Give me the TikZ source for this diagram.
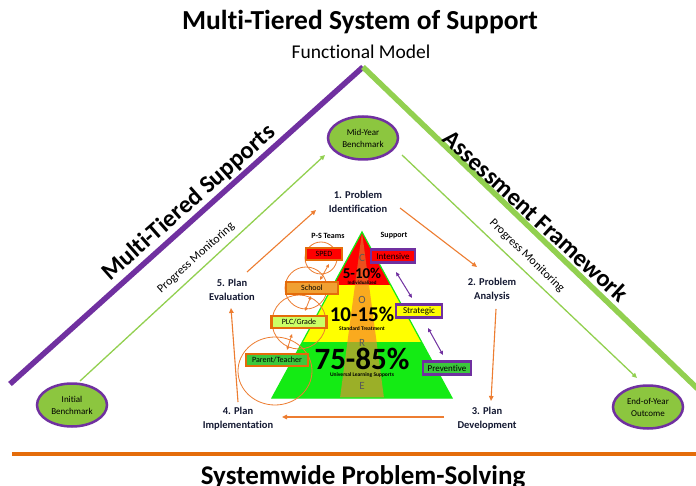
\documentclass[tikz,border=0pt]{standalone}
\usepackage{fontspec}
\setmainfont[Ligatures=NoCommon]{Carlito}
\usetikzlibrary{arrows.meta,shapes.geometric}
\definecolor{mpurple}{RGB}{112,48,160}
\definecolor{mgreen}{RGB}{146,208,80}
\definecolor{egreen}{RGB}{140,198,63}
\definecolor{morange}{RGB}{237,125,49}
\definecolor{borange}{RGB}{228,108,10}
\definecolor{pred}{RGB}{255,0,0}
\definecolor{pyellow}{RGB}{255,255,0}
\definecolor{pgreen}{RGB}{20,235,20}
\definecolor{sred}{RGB}{235,80,30}
\definecolor{sorange}{RGB}{250,170,30}
\definecolor{solive}{RGB}{155,175,40}
\definecolor{navy}{RGB}{20,25,50}
\definecolor{boxlime}{RGB}{204,255,102}
\definecolor{boxgreen}{RGB}{60,200,60}
\definecolor{boxorangefill}{RGB}{240,160,50}
\tikzset{
  bench/.style={ellipse, draw=mpurple, line width=2.5pt, fill=egreen, minimum width=70pt, minimum height=43pt, inner sep=0pt, align=center, font=\fontsize{9}{12}\selectfont},
  cyclelbl/.style={align=center, text=navy, font=\bfseries\fontsize{10.5}{14}\selectfont},
  oarrow/.style={draw=morange, line width=1.1pt, -{Triangle[length=5pt,width=4.5pt]}},
  garrow/.style={draw=mgreen, line width=1.3pt, -{Triangle[length=5pt,width=4.5pt]}},
  parrow/.style={draw=mpurple, line width=1pt, {Triangle[length=4pt,width=3.5pt]}-{Triangle[length=4pt,width=3.5pt]}},
  carrow/.style={draw=morange, line width=0.8pt, {Triangle[length=3.5pt,width=3pt]}-{Triangle[length=3.5pt,width=3pt]}},
  lbox/.style={draw=borange, line width=2.5pt, inner sep=1.5pt, minimum height=12pt, font=\fontsize{8}{9}\selectfont},
  rbox/.style={draw=mpurple, line width=2.5pt, inner sep=1.5pt, minimum height=13pt, font=\fontsize{9}{10}\selectfont},
  ring/.style={draw=morange, line width=0.8pt},
  core/.style={text=black!65, font=\fontsize{11}{12}\selectfont},
  tiny/.style={font=\bfseries\fontsize{5.5}{6}\selectfont},
  pmon/.style={font=\fontsize{12}{14}\selectfont},
}
\begin{document}
\begin{tikzpicture}[x=1pt,y=-1pt]
\useasboundingbox[fill=white] (0,0) rectangle (696,486);
% titles
\node[font=\bfseries\fontsize{27.5}{31}\selectfont] (title) at (360,22) {Multi-Tiered System of Support};
\node[font=\fontsize{19.5}{22}\selectfont] (subtitle) at (361,52) {Functional Model};
% big triangle
\coordinate (apex) at (363,67);
\coordinate (pend) at (10,384);
\coordinate (gend) at (700,391);
\draw[mpurple, line width=5.5pt] (apex) -- (pend);
\draw[mgreen, line width=5.5pt] (apex) -- (gend);
\node[rotate=41.5, font=\bfseries\fontsize{24.5}{28}\selectfont] (mts) at (189,203) {Multi-Tiered Supports};
\node[rotate=-42.5, font=\bfseries\fontsize{24.5}{28}\selectfont] (af) at (536,216) {Assessment Framework};
% bottom line and title
\coordinate (ol) at (12,454);
\coordinate (or) at (696,454);
\draw[borange, line width=4pt] (ol) -- (or);
\node[anchor=base, font=\bfseries\fontsize{27}{30}\selectfont] (spstitle) at (363,484) {Systemwide Problem-Solving};
% benchmarks
\node[bench] (mid) at (363,138) {Mid-Year\\Benchmark};
\node[bench] (init) at (72,405) {Initial\\Benchmark};
\node[bench] (eoy) at (648,407) {End-of-Year\\Outcome};
\coordinate (gl1) at (80,381);
\coordinate (gl2) at (325,155);
\coordinate (gr1) at (402,155);
\coordinate (gr2) at (637,378);
\draw[garrow] (gl1) -- (gl2);
\draw[garrow] (gr1) -- (gr2);
\node[rotate=42, pmon] (pml) at (196,258) {Progress Monitoring};
\node[rotate=-44, pmon] (pmr) at (527,256) {Progress Monitoring};
% cycle labels
\node[cyclelbl] (c1) at (358,202) {1. Problem\\Identification};
\node[cyclelbl] (c2) at (492,290) {2. Problem\\Analysis};
\node[cyclelbl] (c3) at (487,419) {3. Plan\\Development};
\node[cyclelbl] (c4) at (238,419) {4. Plan\\Implementation};
\node[cyclelbl] (c5) at (232,290) {5. Plan\\Evaluation};
\coordinate (a51) at (247,272); \coordinate (a52) at (316,210);
\coordinate (a11) at (400,208); \coordinate (a12) at (477,267);
\coordinate (a21) at (496,309); \coordinate (a22) at (491,401);
\coordinate (a31) at (444,417); \coordinate (a32) at (282,417);
\coordinate (a41) at (238,402); \coordinate (a42) at (231,308);
\draw[oarrow] (a51) -- (a52);
\draw[oarrow] (a11) -- (a12);
\draw[oarrow] (a21) -- (a22);
\draw[oarrow] (a31) -- (a32);
\draw[oarrow] (a41) -- (a42);
% pyramid
\coordinate (pa) at (362,232);
\coordinate (pl) at (272,398);
\coordinate (pr) at (452,398);
\coordinate (sl) at (340,398);
\coordinate (sr) at (384,398);
\begin{scope}
  \clip (pa) -- (pl) -- (pr) -- cycle;
  \fill[pred] (250,225) rectangle (470,285);
  \fill[pyellow] (250,285) rectangle (470,342);
  \fill[pgreen] (250,342) rectangle (470,400);
  \clip (pa) -- (sl) -- (sr) -- cycle;
  \fill[sred] (250,225) rectangle (470,285);
  \fill[sorange] (250,285) rectangle (470,342);
  \fill[solive] (250,342) rectangle (470,400);
\end{scope}
\draw[pgreen, line width=1.2pt, line join=miter] (pa) -- (pl) -- (pr) -- cycle;
\node[core] (cC) at (362,258) {C};
\node[core] (cO) at (362,300) {O};
\node[core] (cR) at (362,343) {R};
\node[core] (cE) at (362,386) {E};
\node[font=\bfseries\fontsize{15}{16}\selectfont] (p1) at (362,273) {5-10\%};
\node[font=\bfseries\fontsize{5}{6}\selectfont] (p1s) at (362,283) {Individualized};
\node[font=\bfseries\fontsize{21}{22}\selectfont] (p2) at (362,314) {10-15\%};
\node[tiny] (p2s) at (362,329) {Standard Treatment};
\node[font=\bfseries\fontsize{31}{32}\selectfont] (p3) at (362,359) {75-85\%};
\node[tiny] (p3s) at (362,375) {Universal Learning Supports};
\node[font=\bfseries\fontsize{8}{9}\selectfont] (pst) at (328,236) {P-S Teams};
\node[font=\bfseries\fontsize{8}{9}\selectfont] (sup) at (394,236) {Support};
% rings
\draw[ring] (321,258) circle (16);
\draw[ring] (306,288) circle (21);
\draw[ring] (299,322) circle (27);
\draw[ring] (275,371) ellipse (37 and 34);
\coordinate (r1a) at (329,264); \coordinate (r1b) at (320,280);
\coordinate (r2a) at (311,296); \coordinate (r2b) at (305,311);
\coordinate (r3a) at (292,334); \coordinate (r3b) at (287,350);
\draw[carrow] (r1a) -- (r1b);
\draw[carrow] (r2a) -- (r2b);
\draw[carrow] (r3a) -- (r3b);
% left boxes
\node[lbox, fill=pred, minimum width=36pt] (sped) at (324,254) {SPED};
\node[lbox, fill=boxorangefill, minimum width=52pt] (school) at (312,288) {School};
\node[lbox, fill=boxlime, minimum width=55pt] (plc) at (299,322) {PLC/Grade};
\node[lbox, fill=boxgreen, minimum width=62pt] (pt) at (277,360) {Parent/Teacher};
% right boxes
\node[rbox, fill=pred, minimum width=44pt] (int) at (393,256) {Intensive};
\node[rbox, fill=pyellow, minimum width=46pt] (str) at (419,311) {Strategic};
\node[rbox, fill=boxgreen, minimum width=48pt] (prev) at (447,368) {Preventive};
\coordinate (q1a) at (396,272); \coordinate (q1b) at (412,298);
\coordinate (q2a) at (428,328); \coordinate (q2b) at (443,355);
\draw[parrow] (q1a) -- (q1b);
\draw[parrow] (q2a) -- (q2b);
\end{tikzpicture}
\end{document}
